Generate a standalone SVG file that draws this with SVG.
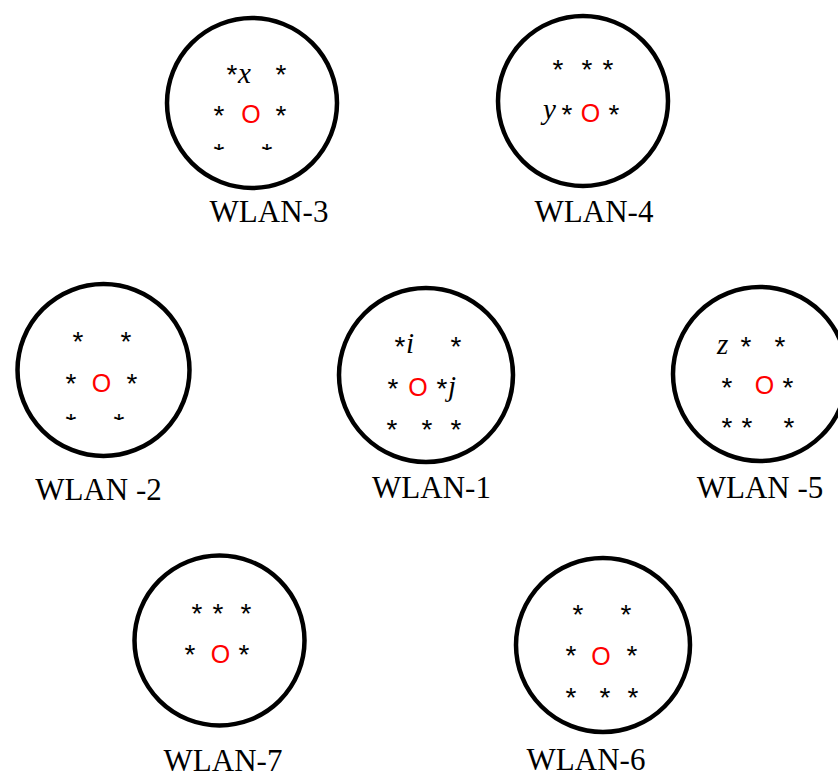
<svg xmlns="http://www.w3.org/2000/svg" width="838" height="778" viewBox="0 0 838 778">
<style>
.ring{fill:none;stroke:#000;stroke-width:4.5}
.st{font-family:"Liberation Sans",Arial,sans-serif;font-size:28px;fill:#000;text-anchor:middle}
.o{font-family:"Liberation Sans",Arial,sans-serif;font-size:25px;fill:#ff0000;text-anchor:middle}
.v{font-family:"Liberation Serif","Times New Roman",serif;font-size:29px;font-style:italic;fill:#000}
.lab{font-family:"Liberation Serif","Times New Roman",serif;font-size:31px;fill:#000;text-anchor:middle}
</style>
<defs>
<clipPath id="c3"><rect x="150" y="0" width="200" height="150"/></clipPath>
<clipPath id="c2"><rect x="0" y="270" width="200" height="150"/></clipPath>
</defs>
<rect width="838" height="778" fill="#fff"/>
<g id="wlan3">
<circle class="ring" cx="252" cy="103" r="85"/>
<text class="st" x="232" y="84">*</text><text class="v" x="238" y="83">x</text>
<text class="st" x="281" y="84">*</text>
<text class="st" x="219" y="125">*</text><text class="o" x="251" y="123">O</text><text class="st" x="281" y="125">*</text>
<g clip-path="url(#c3)"><text class="st" x="219" y="163">*</text><text class="st" x="267" y="163">*</text></g>
<text class="lab" x="269" y="222">WLAN-3</text>
</g>
<g id="wlan4">
<circle class="ring" cx="583" cy="101" r="85"/>
<text class="st" x="558" y="79">*</text><text class="st" x="587" y="79">*</text><text class="st" x="608" y="79">*</text>
<text class="v" x="543" y="119">y</text><text class="st" x="567" y="124">*</text><text class="o" x="590.5" y="122">O</text><text class="st" x="614" y="124">*</text>
<text class="lab" x="594" y="222">WLAN-4</text>
</g>
<g id="wlan2">
<circle class="ring" cx="103.5" cy="370" r="86"/>
<text class="st" x="78" y="351">*</text><text class="st" x="126" y="351">*</text>
<text class="st" x="71" y="393">*</text><text class="o" x="101.5" y="392">O</text><text class="st" x="132" y="393">*</text>
<g clip-path="url(#c2)"><text class="st" x="71" y="433">*</text><text class="st" x="119" y="433">*</text></g>
<text class="lab" x="98.5" y="500">WLAN -2</text>
</g>
<g id="wlan1">
<circle class="ring" cx="426" cy="375" r="87"/>
<text class="st" x="400" y="356">*</text><text class="v" x="406" y="353">i</text><text class="st" x="456" y="356">*</text>
<text class="st" x="393" y="398">*</text><text class="o" x="418" y="396">O</text><text class="st" x="442" y="398">*</text><text class="v" x="448" y="396">j</text>
<text class="st" x="392" y="439">*</text><text class="st" x="427" y="439">*</text><text class="st" x="456" y="439">*</text>
<text class="lab" x="431.5" y="498">WLAN-1</text>
</g>
<g id="wlan5">
<circle class="ring" cx="760" cy="374" r="87"/>
<text class="v" x="717" y="354">z</text><text class="st" x="746" y="356">*</text><text class="st" x="780" y="356">*</text>
<text class="st" x="727" y="397">*</text><text class="o" x="764.5" y="394">O</text><text class="st" x="788" y="397">*</text>
<text class="st" x="727" y="437">*</text><text class="st" x="747" y="437">*</text><text class="st" x="789" y="437">*</text>
<text class="lab" x="760" y="498">WLAN -5</text>
</g>
<g id="wlan7">
<circle class="ring" cx="219.5" cy="640.5" r="85"/>
<text class="st" x="197" y="623">*</text><text class="st" x="218" y="623">*</text><text class="st" x="246" y="623">*</text>
<text class="st" x="190" y="664">*</text><text class="o" x="220.5" y="663">O</text><text class="st" x="244" y="664">*</text>
<text class="lab" x="223" y="771">WLAN-7</text>
</g>
<g id="wlan6">
<circle class="ring" cx="603" cy="645" r="87"/>
<text class="st" x="578" y="624">*</text><text class="st" x="626" y="624">*</text>
<text class="st" x="571" y="665">*</text><text class="o" x="601" y="665">O</text><text class="st" x="632" y="665">*</text>
<text class="st" x="571" y="707">*</text><text class="st" x="605" y="707">*</text><text class="st" x="633" y="707">*</text>
<text class="lab" x="586" y="770">WLAN-6</text>
</g>
<g id="connectors"></g>
</svg>
